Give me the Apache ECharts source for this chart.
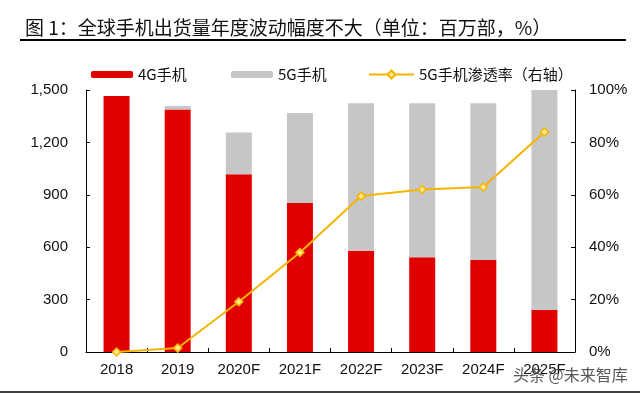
<!DOCTYPE html>
<html><head><meta charset="utf-8">
<script src="https://cdn.jsdelivr.net/npm/echarts@6/dist/echarts.min.js"></script>
<style>html,body{margin:0;padding:0;background:#fff}#c{width:640px;height:394px}</style>
</head><body><div id="c"></div>
<script>
const categories = ['2018','2019','2020F','2021F','2022F','2023F','2024F','2025F'];
const shipments4G = [1465, 1389, 1017, 853, 580, 542, 527, 240];
const shipments5G = [0, 19, 240, 515, 844, 882, 897, 1260];
const penetration5G = [0, 1.5, 19.2, 38, 59.5, 62, 63, 84];
const leftTicks = [0, 300, 600, 900, 1200, 1500];
const rightTicks = [0, 20, 40, 60, 80, 100];

const chart = echarts.init(document.getElementById('c'), null, {renderer: 'canvas'});
const fontL = 'Liberation Sans, Arial, sans-serif';
const fontC = '"Noto Sans CJK SC", sans-serif';
const axisLine = {show: true, lineStyle: {color: '#000', width: 1}};
chart.setOption({
  animation: false,
  textStyle: {fontFamily: fontL},
  title: {
    text: '图 1：全球手机出货量年度波动幅度不大（单位：百万部，%）',
    left: 20, top: 13,
    textStyle: {fontFamily: fontC, fontSize: 19, fontWeight: 'normal', color: '#111'}
  },
  graphic: [
    {type: 'line', shape: {x1: 20, y1: 40, x2: 626, y2: 40}, style: {stroke: '#000', lineWidth: 2}},
    {type: 'line', shape: {x1: 0, y1: 392, x2: 640, y2: 392}, style: {stroke: '#000', lineWidth: 1.5}},
    {type: 'text', left: 513, top: 367, z: 100,
     style: {text: '头条 @未来智库', fontFamily: fontC, fontSize: 16, fill: 'rgba(60,60,60,0.85)'}}
  ],
  legend: [
    {data: ['4G手机'], left: 86, top: 62, itemWidth: 42, itemHeight: 7, itemGap: 4,
     textStyle: {fontFamily: fontC, fontSize: 15, color: '#111'}},
    {data: ['5G手机'], left: 226, top: 62, itemWidth: 42, itemHeight: 7, itemGap: 4,
     textStyle: {fontFamily: fontC, fontSize: 15, color: '#111'}},
    {data: ['5G手机渗透率（右轴）'], left: 363, top: 62, itemWidth: 45, itemHeight: 10, itemGap: 4,
     textStyle: {fontFamily: fontC, fontSize: 15, color: '#111'}}
  ],
  grid: {left: 86, right: 65, top: 90, bottom: 42},
  xAxis: {
    type: 'category', data: categories,
    axisLine: axisLine,
    axisTick: {show: true, inside: true, length: 4, alignWithLabel: false, lineStyle: {color: '#000'}},
    axisLabel: {fontSize: 15, color: '#111', margin: 10, fontFamily: fontL}
  },
  yAxis: [
    {type: 'value', min: 0, max: 1500, interval: 300,
     axisLine: axisLine,
     axisTick: {show: true, inside: true, length: 4, lineStyle: {color: '#000'}},
     splitLine: {show: false},
     axisLabel: {fontSize: 15, color: '#111', margin: 18,
       formatter: v => leftTicks.includes(v) ? v.toLocaleString('en-US') : ''}},
    {type: 'value', min: 0, max: 100, interval: 20, position: 'right',
     axisLine: axisLine,
     axisTick: {show: true, inside: true, length: 4, lineStyle: {color: '#000'}},
     splitLine: {show: false},
     axisLabel: {fontSize: 15, color: '#111', margin: 14,
       formatter: v => rightTicks.includes(v) ? v + '%' : ''}}
  ],
  series: [
    {name: '4G手机', type: 'bar', stack: 's', data: shipments4G, barWidth: 26,
     itemStyle: {color: '#E00000'}},
    {name: '5G手机', type: 'bar', stack: 's', data: shipments5G, barWidth: 26,
     itemStyle: {color: '#C6C6C6'}},
    {name: '5G手机渗透率（右轴）', type: 'line', yAxisIndex: 1, data: penetration5G,
     symbol: 'diamond', symbolSize: 8, showAllSymbol: true,
     lineStyle: {color: '#F5B400', width: 2},
     itemStyle: {color: '#FFE98A', borderColor: '#F5B400', borderWidth: 1.5}, z: 10}
  ]
});
</script></body></html>
